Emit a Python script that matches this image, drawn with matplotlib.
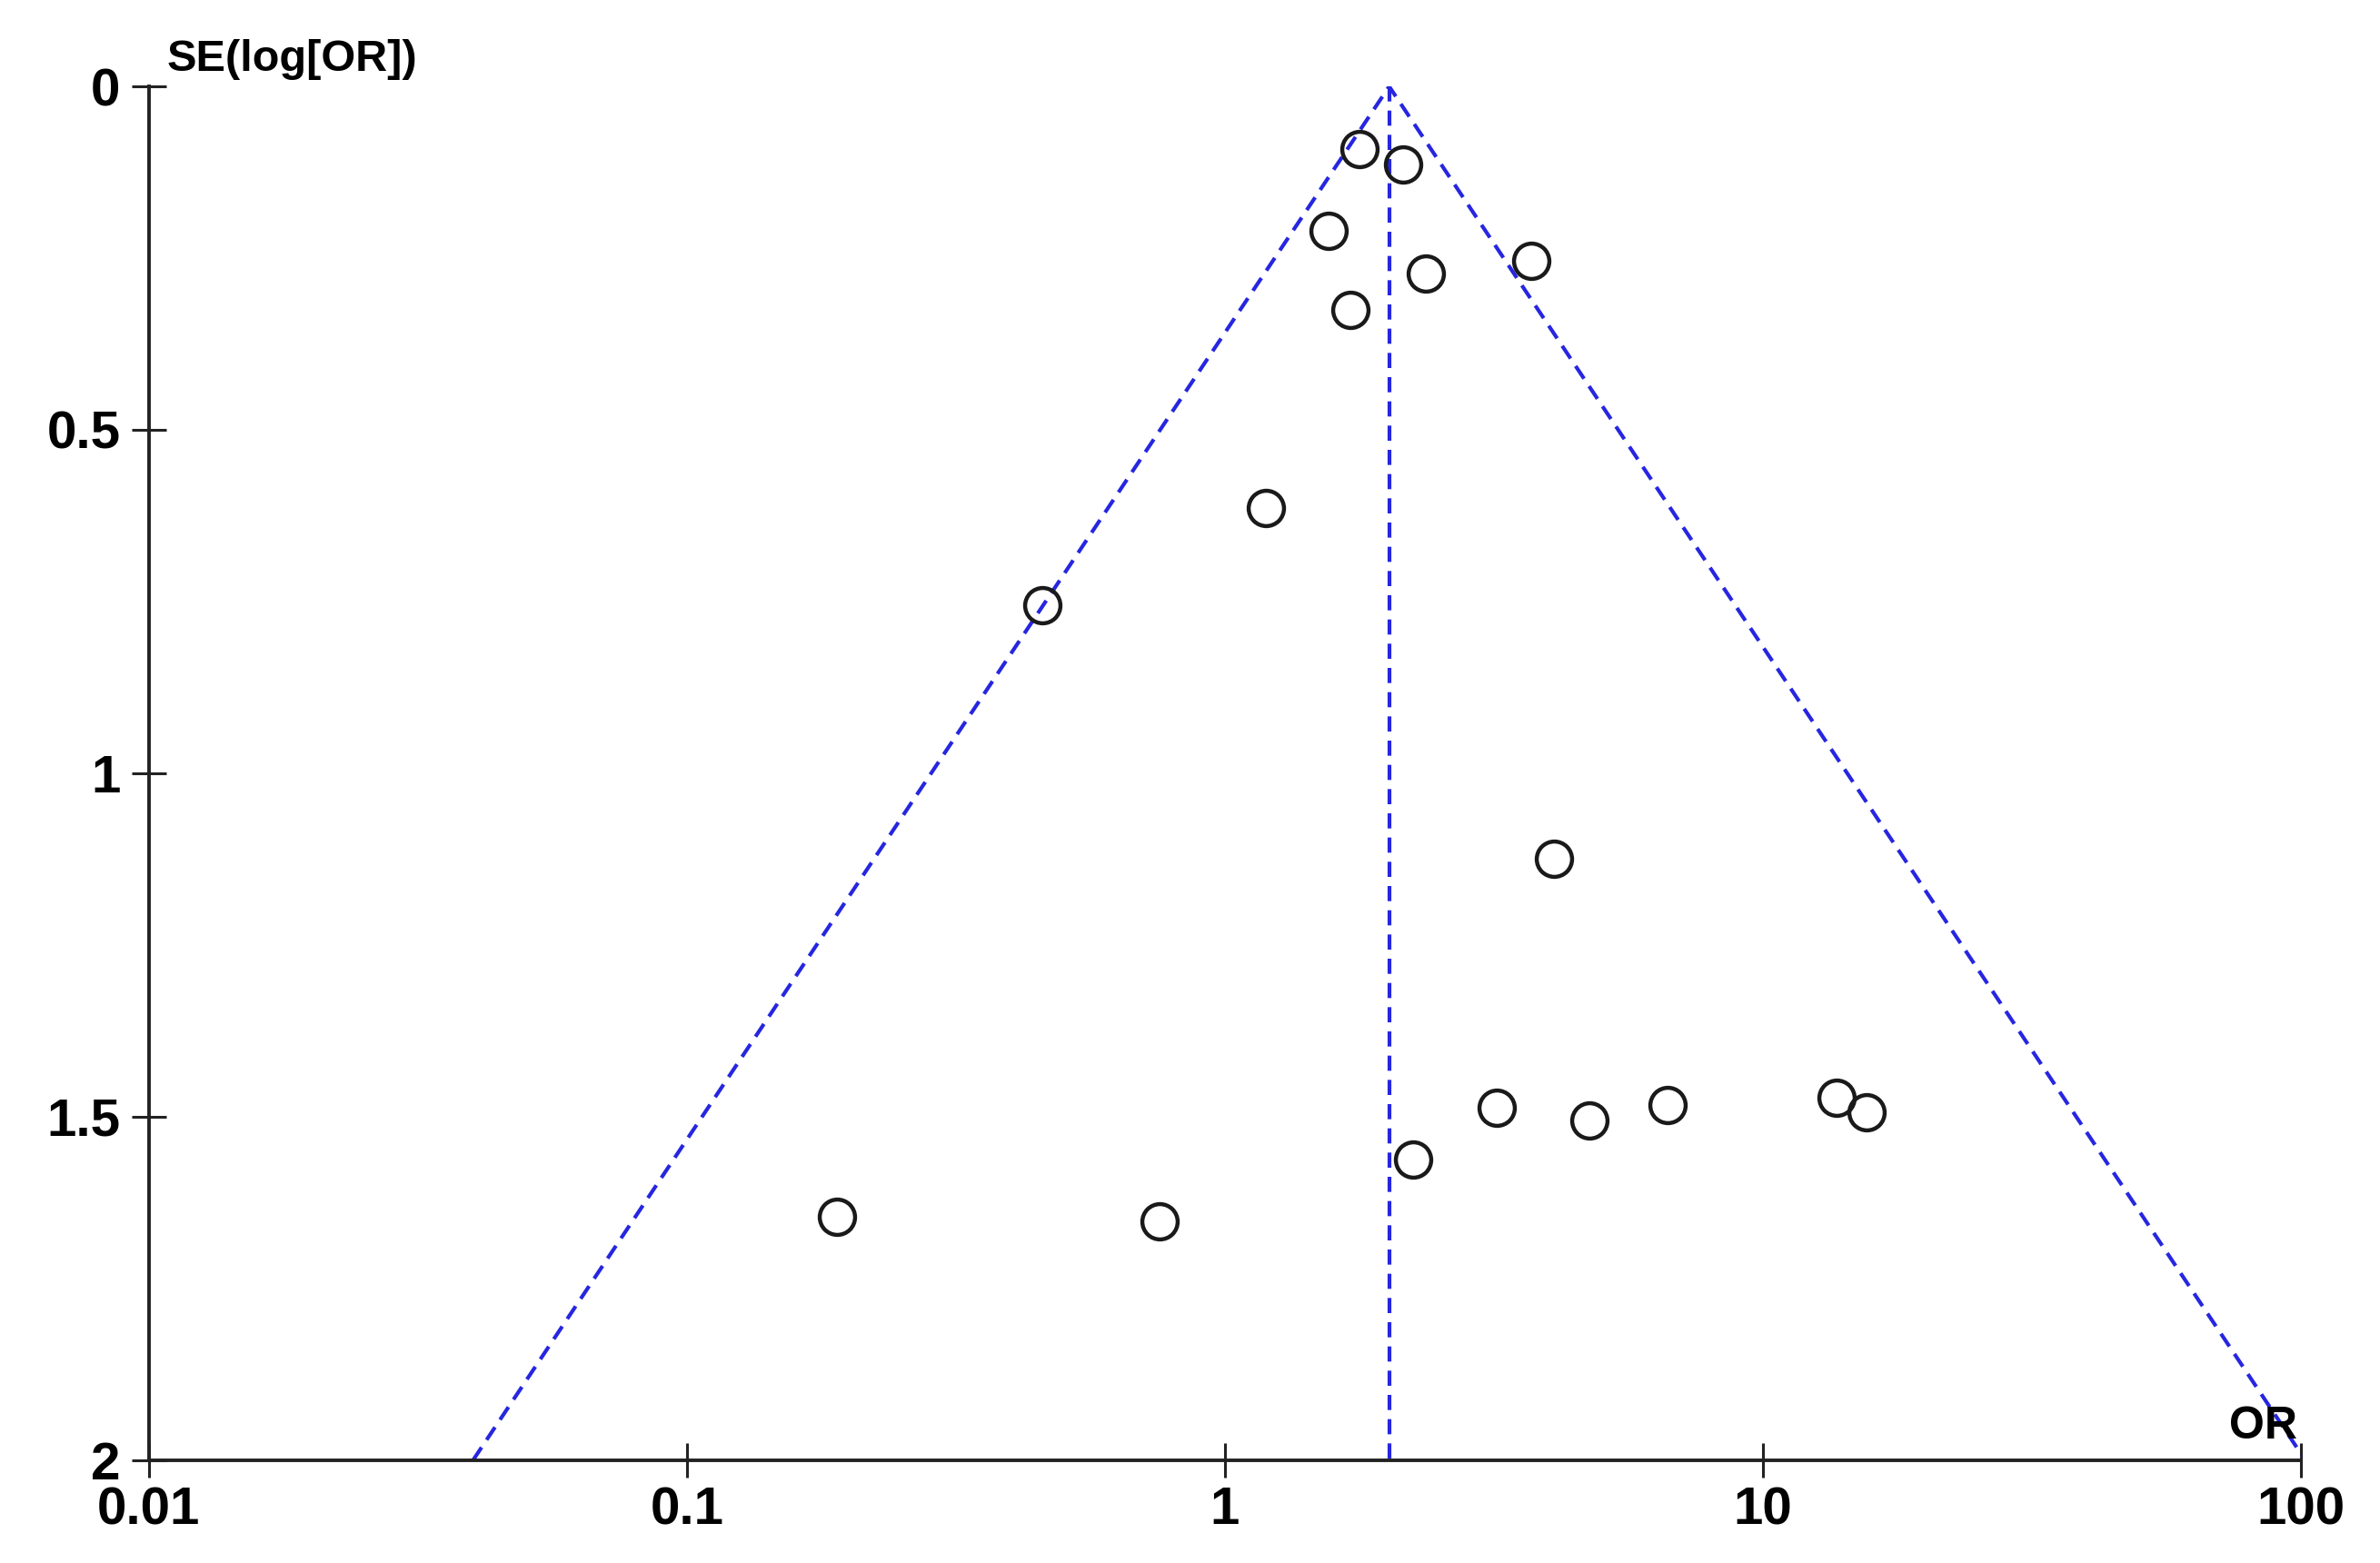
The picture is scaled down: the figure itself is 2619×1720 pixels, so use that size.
import numpy as np
import matplotlib
matplotlib.use("Agg")
import matplotlib.pyplot as plt

plt.rcParams['font.family'] = ['Liberation Sans', 'DejaVu Sans']

# Study-level data
odds_ratio = [1.78, 2.14, 1.56, 3.71, 2.36, 1.71, 1.19, 0.458, 4.09,
              3.20, 4.75, 6.66, 13.7, 15.6, 2.24, 0.190, 0.757]
se_log_or = [0.091, 0.113, 0.210, 0.254, 0.272, 0.325, 0.614, 0.756, 1.125,
             1.487, 1.505, 1.483, 1.472, 1.494, 1.562, 1.646, 1.653]

pooled_or = 2.02
z_crit = 1.96
se_max = 2.0

x_ticks = [0.01, 0.1, 1, 10, 100]
x_tick_labels = ["0.01", "0.1", "1", "10", "100"]
y_ticks = [0, 0.5, 1, 1.5, 2]
y_tick_labels = ["0", "0.5", "1", "1.5", "2"]

blue = '#2626e0'

fig = plt.figure(figsize=(26.19, 17.20), dpi=100)
ax = fig.add_axes([0.0625, 0.0659, 0.9043, 0.8788])

ax.set_xscale('log')
ax.set_xlim(0.01, 100)
ax.set_ylim(2, 0)

# Funnel lines (pseudo 95% confidence limits)
lo = pooled_or * np.exp(-z_crit * se_max)
hi = pooled_or * np.exp(z_crit * se_max)
ax.plot([lo, pooled_or, hi], [se_max, 0, se_max], color=blue, lw=3.0,
        dashes=(4.0, 2.4), zorder=2)
ax.plot([pooled_or, pooled_or], [0, se_max], color=blue, lw=3.0,
        dashes=(4.0, 2.4), zorder=2)

ax.plot(odds_ratio, se_log_or, linestyle='none', marker='o', markersize=28,
        markerfacecolor='none', markeredgecolor='#1a1a1a', markeredgewidth=3.2,
        zorder=3)

for s in ['top', 'right']:
    ax.spines[s].set_visible(False)
for s in ['left', 'bottom']:
    ax.spines[s].set_linewidth(2.8)
    ax.spines[s].set_color('#222222')

ax.set_xticks(x_ticks)
ax.set_xticklabels(x_tick_labels)
ax.set_yticks(y_ticks)
ax.set_yticklabels(y_tick_labels)
ax.minorticks_off()
ax.tick_params(axis='both', direction='inout', length=27, width=2.2,
               color='#222222', labelsize=42)
ax.tick_params(axis='y', pad=9)
ax.tick_params(axis='x', pad=7)
for lab in ax.get_xticklabels() + ax.get_yticklabels():
    lab.set_fontweight('bold')

ax.annotate("SE(log[OR])", xy=(0, 1), xycoords='axes fraction',
            xytext=(14, 12), textcoords='offset points', ha='left',
            va='baseline', fontsize=35, fontweight='bold')
ax.annotate("OR", xy=(1, 0), xycoords='axes fraction',
            xytext=(-3, 17), textcoords='offset points', ha='right',
            va='baseline', fontsize=36, fontweight='bold')

fig.savefig('out.png', dpi=100, facecolor='white')
